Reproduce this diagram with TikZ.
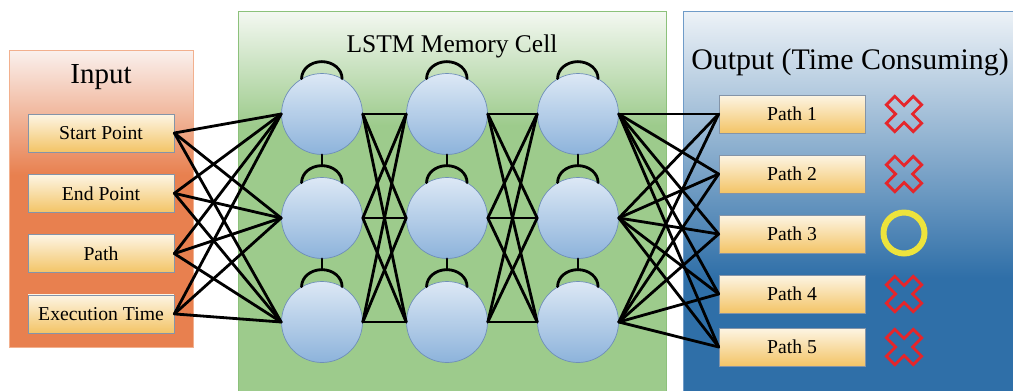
\documentclass[tikz,border=0pt]{standalone}
\usepackage{fontspec}
\setmainfont{Liberation Serif}

\definecolor{intop}{HTML}{FAF1EE}
\definecolor{inpanel}{HTML}{E8804F}
\definecolor{inedge}{HTML}{F2B08E}
\definecolor{lstmtop}{HTML}{F4F8F2}
\definecolor{lstmpanel}{HTML}{9DCB8C}
\definecolor{lstmedge}{HTML}{8CC17B}
\definecolor{outtop}{HTML}{EDF2F7}
\definecolor{outpanel}{HTML}{2F6FA8}
\definecolor{outedge}{HTML}{6F9BC8}
\definecolor{boxtop}{HTML}{FDF5E4}
\definecolor{boxbot}{HTML}{F3C466}
\definecolor{boxline}{HTML}{8494A8}
\definecolor{celltop}{HTML}{DCE8F5}
\definecolor{cellbot}{HTML}{8DB3DB}
\definecolor{cellline}{HTML}{6F8FB8}
\definecolor{nored}{HTML}{E5262B}
\definecolor{okyellow}{HTML}{EDE33C}

% panel shadings (path spans 25bp..75bp)
\pgfdeclareverticalshading{inshade}{100bp}{color(0bp)=(inpanel); color(54bp)=(inpanel); color(75bp)=(intop); color(100bp)=(intop)}
\pgfdeclareverticalshading{lstmshade}{100bp}{color(0bp)=(lstmpanel); color(60bp)=(lstmpanel); color(75bp)=(lstmtop); color(100bp)=(lstmtop)}
\pgfdeclareverticalshading{outshade}{100bp}{color(0bp)=(outpanel); color(40bp)=(outpanel); color(75bp)=(outtop); color(100bp)=(outtop)}

\tikzset{
  pathbox/.style={draw=boxline, top color=boxtop, bottom color=boxbot,
    minimum width=2.92cm, minimum height=0.76cm, inner sep=0pt,
    font=\fontsize{11.2}{13}\selectfont},
  cell/.style={circle, draw=cellline, top color=celltop, bottom color=cellbot,
    minimum size=1.62cm, inner sep=0pt},
  link/.style={line width=1.6pt, black, line cap=round},
  crossmark/.style={draw=nored, line width=1.6pt, line join=miter},
  ringmark/.style={draw=okyellow, line width=3.4pt}
}

\begin{document}
\begin{tikzpicture}[x=0.02cm, y=-0.02cm]
    \useasboundingbox (0,0) rectangle (1013,390);

    % Panels
    \shade[draw=inedge, shading=inshade] (9,50) rectangle (193,347);
    \shade[draw=lstmedge, shading=lstmshade] (238,11) rectangle (666,392);
    \shade[draw=outedge, shading=outshade] (683,11) rectangle (1016,392);
    \node (intitle) at (101,77) {\fontsize{16.5}{20}\selectfont Input};
    \node (lstmtitle) at (452,46) {\fontsize{14.5}{17}\selectfont LSTM Memory Cell};
    \node (outtitle) at (850,62) {\fontsize{17}{20}\selectfont Output (Time Consuming)};

    % Input boxes
    \foreach \t [count=\i] in {Start Point, End Point, Path, Execution Time}
        \node[pathbox] (in\i) at (101, 72.7+60.3*\i) {\t};

    % Memory cells (column i, row j)
    \foreach \x [count=\i] in {322,447,578}
        \foreach \y [count=\j] in {114,218,322} {
            \node[cell] (c\i\j) at (\x,\y) {};
            \coordinate (t\i\j) at ([yshift=0.23cm]c\i\j.north);
            \draw[link] (c\i\j.120) arc[start angle=180, end angle=0, x radius=0.405cm, y radius=0.34cm];
        }
    \foreach \i in {1,2,3} {
        \draw[link] (c\i1.south) -- (t\i2); \draw[link] (c\i2.south) -- (t\i3);
    }

    % Output boxes
    \foreach \y [count=\k] in {114,174,234,294,347}
        \node[pathbox] (out\k) at (792,\y) {Path \k};

    % Links
    \foreach \i in {1,...,4} \foreach \j in {1,2,3} \draw[link] (in\i.east) -- (c1\j.west);
    \foreach \j in {1,2,3} \foreach \k in {1,2,3} {
        \draw[link] (c1\j.east) -- (c2\k.west); \draw[link] (c2\j.east) -- (c3\k.west);
    }
    \foreach \j in {1,2,3} \foreach \k in {1,...,5} \draw[link] (c3\j.east) -- (out\k.west);

    % Marks
    \foreach \y in {114,174,294,347}
        \draw[crossmark, shift={(904,\y)}, rotate=45]
            (-6,-19) -- (6,-19) -- (6,-6) -- (19,-6) -- (19,6) -- (6,6) -- (6,19)
            -- (-6,19) -- (-6,6) -- (-19,6) -- (-19,-6) -- (-6,-6) -- cycle;
    \draw[ringmark] (904,233) circle (20.5);
\end{tikzpicture}
\end{document}
